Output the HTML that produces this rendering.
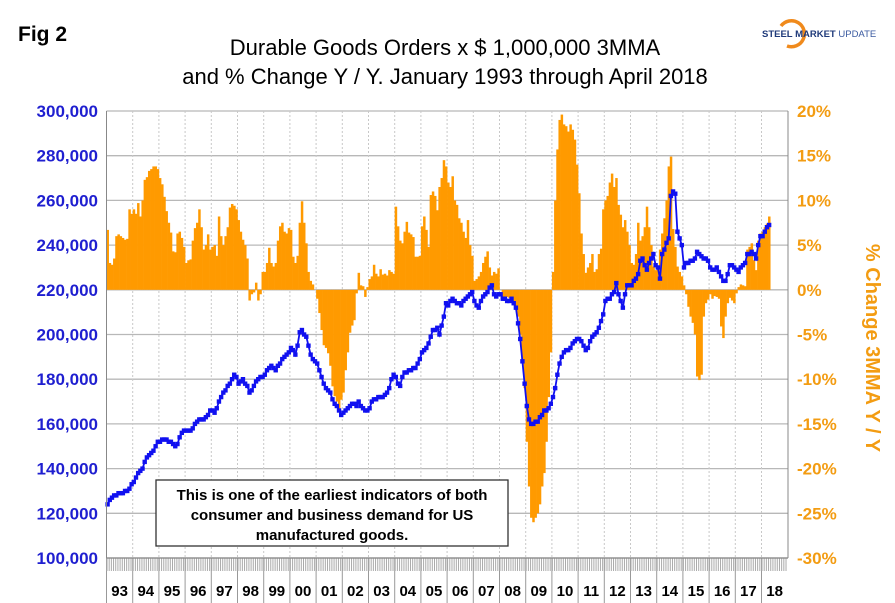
<!DOCTYPE html>
<html><head><meta charset="utf-8"><style>
body{margin:0;background:#fff;}
svg{display:block;font-family:"Liberation Sans",Arial,sans-serif;}
</style></head><body>
<svg id="chart" width="895" height="603" viewBox="0 0 895 603" xmlns="http://www.w3.org/2000/svg">
<rect width="895" height="603" fill="#fff"/>
<text x="18" y="41" font-size="21" font-weight="bold">Fig 2</text>
<text x="445" y="55" font-size="22" text-anchor="middle">Durable Goods Orders x $ 1,000,000 3MMA</text>
<text x="445" y="84" font-size="22" text-anchor="middle">and % Change Y / Y. January 1993 through April 2018</text>
<g>
<path d="M781 26 A13 13 0 1 1 787 46" fill="none" stroke="#f08a1c" stroke-width="3.5"/>
<text x="762" y="37" font-size="9.5" font-weight="bold" fill="#1f3a7a">STEEL <tspan>MARKET</tspan> <tspan font-weight="normal" fill="#3a5aa0">UPDATE</tspan></text>
</g>
<g id="grid"></g>
<g id="bars"></g>
<g id="line"></g>
<g id="axes"></g>
<g>
<rect x="156" y="480" width="352" height="66" fill="#fff" stroke="#333" stroke-width="1.3"/>
<text x="332" y="500" font-size="15" font-weight="bold" text-anchor="middle">This is one of the earliest indicators of both</text>
<text x="332" y="520" font-size="15" font-weight="bold" text-anchor="middle">consumer and business demand for US</text>
<text x="332" y="540" font-size="15" font-weight="bold" text-anchor="middle">manufactured goods.</text>
</g>
<text transform="translate(866,348) rotate(90)" font-size="20" font-weight="bold" fill="#f39c12" text-anchor="middle">% Change 3MMA Y / Y</text>
</svg>
<script>
const years = ["93","94","95","96","97","98","99","00","01","02","03","04","05","06","07","08","09","10","11","12","13","14","15","16","17","18"];
const leftTicks = [100000,120000,140000,160000,180000,200000,220000,240000,260000,280000,300000];
const rightTicks = [-30,-25,-20,-15,-10,-5,0,5,10,15,20];
const orders = [
124,126,127,128,128,129,129,129,130,130,131,133,
134,136,138,139,140,143,145,146,147,148,150,152,
152,153,153,153,152,152,151,150,151,154,156,157,
157,157,157,158,160,161,162,162,162,163,164,166,
166,165,167,170,172,174,175,177,178,180,182,181,
178,179,180,178,177,174,175,177,179,180,181,181,
182,184,185,186,185,184,186,187,189,190,191,192,
194,193,191,195,201,202,200,199,195,191,189,188,
187,184,181,178,176,175,174,171,169,168,166,164,
165,166,167,168,169,169,168,170,168,167,166,166,
167,170,171,171,172,172,172,173,174,176,180,182,
181,178,177,181,183,183,184,184,185,185,187,189,
192,193,194,196,199,202,202,203,200,204,208,214,
213,215,216,215,214,214,213,215,216,217,218,219,
215,213,212,215,217,218,219,221,222,218,217,218,
218,216,216,215,215,216,214,212,205,198,188,178,
168,162,160,160,161,161,163,164,166,166,167,169,
172,176,182,187,190,192,193,193,194,196,197,198,
198,197,195,193,194,197,199,200,201,203,206,209,
215,216,216,218,219,223,218,215,212,218,222,222,
222,224,225,227,233,234,231,229,232,234,236,231,
230,225,236,238,241,243,262,264,263,246,243,240,
230,232,232,233,233,234,237,236,235,234,234,233,
230,229,229,230,228,226,224,224,227,231,231,230,
229,228,230,231,232,236,236,237,236,234,240,244,
244,246,248,249];
const pctChange = [
6.7,3,2.8,3.5,6,6.2,6,5.8,5.6,5.7,9,8.5,
9,8.5,9.7,8.2,10,12.3,12.6,13.3,13.5,13.8,13.8,13.5,
12.5,11.8,10.4,8.8,7.5,6.4,4.3,4.2,6.3,6.5,5.8,4.8,
3,3.3,3.4,5.5,6.9,7.5,9,7,4.5,5,6.2,4.5,
4.8,5,3.8,8.2,6,5,6,7,9.2,9.6,9.4,9,
7.8,6.5,5.6,5,3.5,-1.2,-0.5,-0.3,0.8,-1.2,-0.5,2,
2,3,4.7,3,2.6,3,5.5,7.1,7.5,6.5,6.3,6.9,
6.7,3.7,3,3.8,7.5,9.9,7.5,5.2,2,1,0.6,0,
-1,-2.6,-4.5,-6.2,-6.5,-7.1,-8.5,-10.8,-11.9,-12.5,-13.4,-12.3,
-11.5,-9,-7,-4.8,-4,-3.4,-0.4,1.9,0.5,0.4,-0.8,0.3,
1.2,1.5,2.8,1.8,1.5,2.3,1.7,1.8,1.6,2.2,2,1.8,
9.3,7.1,5.5,5.2,6.5,7.6,6.4,6.2,5.9,3.7,3.7,3.8,
7.1,8.2,6.7,4.8,10.6,11,10.5,8.9,11.5,12.5,14.5,13.8,
12,11.5,12.7,10,9.5,8,7.5,6.5,5.8,7.8,5,3.8,
1,1.2,1.5,2,3,3.7,4.3,2.5,1.6,2,1.8,2.4,
0,-1,-1.2,-0.8,-0.9,-1.3,-1.5,-2,-3,-5,-8,-11,
-17,-22,-25.5,-26,-25.5,-25,-24,-22,-20.5,-17,-12,-7,
2,10,15.7,19,19.6,18.5,18.3,17.7,18.5,17.9,16.8,14,
10.8,6.3,4,1.9,2.5,3,4,2,2.3,4,4.6,9,
10,10.5,12,13,11.5,12.5,9.5,8.4,7,7.8,6.5,5,
3,2.8,4,7.5,5.5,6,7,9.3,7,5,2.6,2.2,
2.5,4.5,6.3,8,10,13.8,14.9,6.8,4.8,2.6,2,1.5,
0.5,-0.5,-1.9,-3,-3.7,-5,-9.7,-10.1,-9.5,-3,-1.5,-1.1,
-0.5,-1,-0.7,-0.8,-1,-4.1,-5.4,-3,-1.5,-0.9,-1.2,-1.5,
-0.4,0.3,0.6,0.5,0.4,4.5,4.8,5.2,3.3,2.2,5.5,6.3,
6.5,7,7.4,8.2];

const NS="http://www.w3.org/2000/svg";
const X0=106.5, YW=26.2, MW=YW/12, TOP=111, BOT=558, RIGHT=788;
const yL=v=>TOP+(300000-v)/200000*(BOT-TOP);
const yR=p=>TOP+(20-p)/50*(BOT-TOP);
const xM=i=>X0+i*MW;
function mk(tag,attrs,parent){const e=document.createElementNS(NS,tag);for(const k in attrs)e.setAttribute(k,attrs[k]);parent.appendChild(e);return e;}
const grid=document.getElementById('grid'),bars=document.getElementById('bars'),line=document.getElementById('line'),axes=document.getElementById('axes');

leftTicks.forEach((v,i)=>{
  const y=yL(v);
  const g=mk('line',{x1:X0,x2:RIGHT,y1:y,y2:y,stroke:'#b8b8b8','stroke-width':1.3},grid);
  
  
  const t=mk('text',{x:98,y:y+6,'font-size':17,'font-weight':'bold',fill:'#1f1fd0','text-anchor':'end'},axes);
  t.textContent=v.toLocaleString('en-US');
  
  
});
rightTicks.forEach(p=>{
  const t=mk('text',{x:797,y:yR(p)+6,'font-size':17,'font-weight':'bold',fill:'#f39c12'},axes);
  t.textContent=p+'%';
  
  
});
years.forEach((yr,k)=>{
  const x=X0+k*YW;
  if(k>0){const g=mk('line',{x1:x,x2:x,y1:TOP,y2:BOT,stroke:'#c8c8c8','stroke-dasharray':'2,2'},grid);
  
  }
  const s=mk('line',{x1:x,x2:x,y1:BOT,y2:603,stroke:'#999','stroke-width':1},axes);
  
  
  const t=mk('text',{x:x+YW/2,y:596,'font-size':15,'font-weight':'bold','text-anchor':'middle'},axes);
  t.textContent=yr;
  
  
});
for(let i=0;i<312;i++){const x=xM(i)+0.5;const t=mk('line',{x1:x,x2:x,y1:BOT,y2:571,stroke:'#aaa','stroke-width':1},axes);
  
  }
const ax=mk('line',{x1:X0,x2:RIGHT,y1:BOT,y2:BOT,stroke:'#888','stroke-width':1.3},axes);


const lb=mk('line',{x1:X0,x2:X0,y1:TOP,y2:BOT,stroke:'#888'},axes);


const rb=mk('line',{x1:RIGHT,x2:RIGHT,y1:TOP,y2:BOT,stroke:'#888'},axes);



const y0=yR(0);
pctChange.forEach((p,i)=>{
  const y=yR(p);
  const b=mk('rect',{x:xM(i),y:Math.min(y,y0),width:MW+0.3,height:Math.abs(y-y0),fill:'#ff9a00'},bars);
  
  
});
const pts=orders.map((v,i)=>(xM(i)+MW/2).toFixed(1)+','+yL(v*1000).toFixed(1)).join(' ');
const pl=mk('polyline',{points:pts,fill:'none',stroke:'#1010f0','stroke-width':1.8},line);


orders.forEach((v,i)=>{
  const m=mk('rect',{x:xM(i)+MW/2-2.2,y:yL(v*1000)-2.2,width:4.4,height:4.4,fill:'#1010f0'},line);
  
  
});
</script>
</body></html>
